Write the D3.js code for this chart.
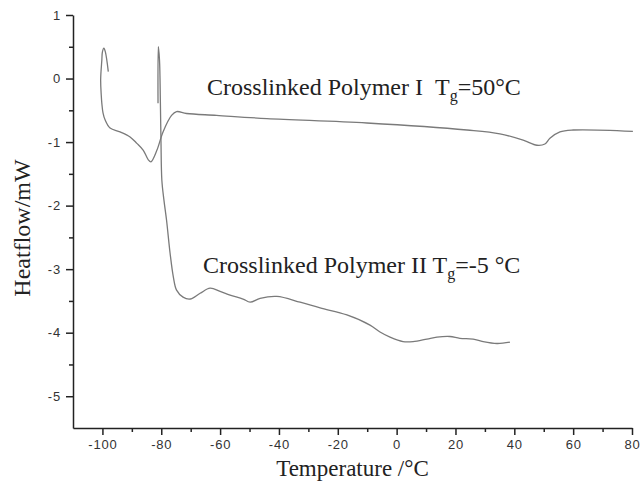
<!DOCTYPE html>
<html>
<head>
<meta charset="utf-8">
<script src="https://cdn.jsdelivr.net/npm/d3@7"></script>
<style>
  body { margin: 0; background: #fff; }
  .axis path, .axis line { stroke: #222; stroke-width: 1.5; }
  .axis text { font-family: "Liberation Sans", Arial, sans-serif; font-size: 13px; fill: #333; letter-spacing: 0.8px; }
  .label { font-family: "Liberation Serif", "Times New Roman", serif; fill: #222; }
</style>
</head>
<body>
<div id="chart"></div>
<script>
// tick values
var xMajor = [-100, -80, -60, -40, -20, 0, 20, 40, 60, 80];
var xMinor = [-90, -70, -50, -30, -10, 10, 30, 50, 70];
var yMajor = [1, 0, -1, -2, -3, -4, -5];
var yMinor = [0.5, -0.5, -1.5, -2.5, -3.5, -4.5];

// Crosslinked Polymer I (temperature, heatflow)
var polyOneT = [-98.0, -99.0, -99.5, -100.0, -100.2, -100.6, -100.4, -100.2, -99.8, -99.1, -97.4, -94.0, -90.6, -88.3, -86.1, -84.4, -83.5, -81.5, -79.4, -76.5, -74.8, -71.4, -61.2, -44.1, -10.1, 23.9, 35.1, 43.0, 47.7, 50.4, 52.1, 55.5, 60.0, 80.3];
var polyOneH = [0.11, 0.42, 0.48, 0.42, 0.29, -0.02, -0.26, -0.39, -0.54, -0.65, -0.78, -0.84, -0.92, -1.02, -1.13, -1.28, -1.31, -1.13, -0.84, -0.58, -0.52, -0.55, -0.58, -0.63, -0.70, -0.81, -0.87, -0.97, -1.05, -1.03, -0.94, -0.84, -0.81, -0.83];

// Crosslinked Polymer II
var polyTwoT = [-81.1, -81.0, -80.6, -80.3, -80.1, -79.8, -79.1, -78.2, -77.0, -75.9, -74.8, -72.6, -70.2, -66.8, -63.4, -60.0, -56.6, -52.2, -49.8, -46.4, -40.7, -32.8, -26.0, -16.9, -9.05, -5.65, -2.25, 2.17, 5.57, 10.3, 13.7, 18.1, 21.5, 26.0, 29.4, 34.1, 38.5];
var polyTwoH = [-0.39, 0.50, 0.29, -0.37, -0.97, -1.60, -1.91, -2.23, -2.75, -3.12, -3.33, -3.44, -3.47, -3.38, -3.30, -3.35, -3.41, -3.47, -3.52, -3.46, -3.43, -3.52, -3.61, -3.72, -3.88, -3.99, -4.07, -4.14, -4.14, -4.10, -4.07, -4.06, -4.09, -4.10, -4.14, -4.17, -4.15];

var width = 642, height = 487;
var margin = { top: 15, right: 10, bottom: 59, left: 73 };

var svg = d3.select("#chart")
    .append("svg")
    .attr("width", width)
    .attr("height", height);

var x = d3.scaleLinear().domain([-110, 80]).range([margin.left, width - margin.right]);
var y = d3.scaleLinear().domain([-5.5, 1]).range([height - margin.bottom, margin.top]);

var fmt = function (d) { return d < 0 ? "-" + Math.abs(d) : d; };

// x axis: major then minor ticks
svg.append("g")
    .attr("class", "axis")
    .attr("transform", "translate(0," + (height - margin.bottom) + ")")
    .call(d3.axisBottom(x).tickValues(xMajor).tickSize(7).tickSizeOuter(0).tickPadding(5).tickFormat(fmt));
svg.append("g")
    .attr("class", "axis")
    .attr("transform", "translate(0," + (height - margin.bottom) + ")")
    .call(d3.axisBottom(x).tickValues(xMinor).tickSize(4).tickSizeOuter(0).tickFormat(""))
    .select(".domain").remove();

// y axis
svg.append("g")
    .attr("class", "axis")
    .attr("transform", "translate(" + margin.left + ",0)")
    .call(d3.axisLeft(y).tickValues(yMajor).tickSize(7).tickSizeOuter(0).tickPadding(5).tickFormat(fmt));
svg.append("g")
    .attr("class", "axis")
    .attr("transform", "translate(" + margin.left + ",0)")
    .call(d3.axisLeft(y).tickValues(yMinor).tickSize(4).tickSizeOuter(0).tickFormat(""))
    .select(".domain").remove();

// curves
var line = d3.line()
    .x(function (d) { return x(d[0]); })
    .y(function (d) { return y(d[1]); })
    .curve(d3.curveCatmullRom.alpha(0.5));

var series = [d3.zip(polyOneT, polyOneH), d3.zip(polyTwoT, polyTwoH)];
svg.selectAll(".curve")
    .data(series)
    .enter()
    .append("path")
    .attr("class", "curve")
    .attr("fill", "none")
    .attr("stroke", "#7a7a7a")
    .attr("stroke-width", 1.3)
    .attr("d", line);

// axis labels
svg.append("text")
    .attr("class", "label")
    .attr("text-anchor", "middle")
    .attr("x", (margin.left + width - margin.right) / 2)
    .attr("y", 476)
    .style("font-size", "23px")
    .text("Temperature /°C");

svg.append("text")
    .attr("class", "label")
    .attr("text-anchor", "middle")
    .attr("transform", "translate(30,228) rotate(-90)")
    .style("font-size", "24px")
    .text("Heatflow/mW");

// annotations
function annotate(xPos, yPos, name, tg) {
    var t = svg.append("text")
        .attr("class", "label")
        .attr("x", xPos)
        .attr("y", yPos)
        .style("font-size", "24px");
    t.append("tspan").text(name + "T");
    t.append("tspan").attr("dy", 6).style("font-size", "16px").text("g");
    t.append("tspan").attr("dy", -6).text(tg);
}
annotate(207, 95, "Crosslinked Polymer I\u00a0\u00a0", "=50°C");
annotate(203, 273, "Crosslinked Polymer II ", "=-5 °C");
</script>
</body>
</html>
